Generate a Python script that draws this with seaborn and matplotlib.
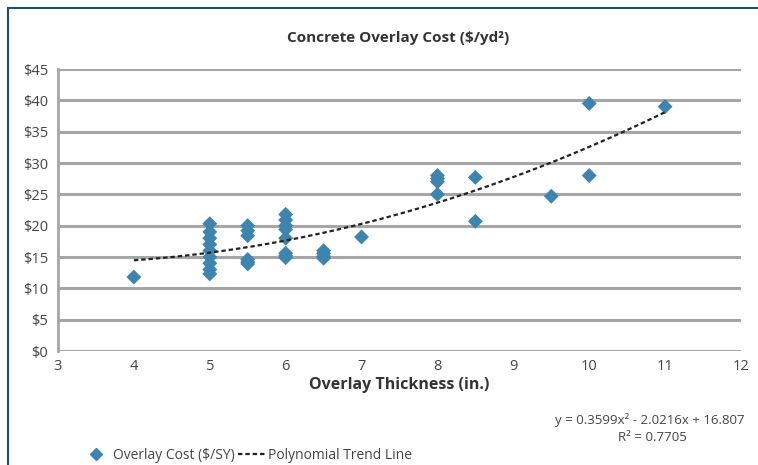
import matplotlib
matplotlib.use("Agg")
import matplotlib.pyplot as plt
import matplotlib.ticker as mticker
from matplotlib.lines import Line2D
from matplotlib.patches import Rectangle
import numpy as np
import pandas as pd
import seaborn as sns

# ---- data ----
thickness = [4,
             5, 5, 5, 5, 5, 5, 5, 5, 5,
             5.5, 5.5, 5.5, 5.5, 5.5, 5.5,
             6, 6, 6, 6, 6, 6, 6, 6,
             6.5, 6.5, 6.5, 6.5,
             7,
             8, 8, 8, 8,
             8.5, 8.5,
             9.5,
             10, 10,
             11]
cost = [11.8,
        20.3, 19.0, 18.0, 17.0, 16.0, 15.0, 14.0, 13.0, 12.3,
        20.0, 19.2, 18.4, 14.6, 14.2, 13.9,
        21.8, 20.9, 20.0, 19.4, 18.0, 15.6, 15.2, 14.9,
        16.0, 15.6, 15.1, 14.8,
        18.2,
        28.0, 27.5, 27.0, 25.0,
        27.7, 20.7,
        24.7,
        39.5, 28.0,
        39.0]
trend_coef = [0.3599, -2.0216, 16.807]   # printed trend equation
trend_range = [4, 11]
x_ticks = [3, 4, 5, 6, 7, 8, 9, 10, 11, 12]
y_ticks = [0, 5, 10, 15, 20, 25, 30, 35, 40, 45]

df = pd.DataFrame({"thickness": thickness, "cost": cost})
tx = np.linspace(trend_range[0], trend_range[1], 100)
ty = np.polyval(trend_coef, tx)
tdf = pd.DataFrame({"x": tx, "y": ty})

sns.set_theme(style="white")
plt.rcParams["font.family"] = ["Open Sans", "DejaVu Sans"]

W, H = 758, 465
fig = plt.figure(figsize=(W / 100, H / 100), dpi=100)
ax = fig.add_axes([58 / W, 1 - 351 / H, (741 - 58) / W, (351 - 69) / H])

grid_col = "#a6a6a6"
for v in y_ticks:
    ax.axhline(v, color=grid_col, lw=2.2, zorder=0)

marker_col = "#3d84ae"
sns.scatterplot(data=df, x="thickness", y="cost", marker="D", s=58,
                color=marker_col, edgecolor="none", ax=ax, zorder=3)
sns.lineplot(data=tdf, x="x", y="y", color="#222222", lw=1.6,
             linestyle=(0, (2, 1.3)), ax=ax, zorder=4)

ax.set_xlim(3, 12)
ax.set_ylim(0, 45)
ax.set_xticks(x_ticks)
ax.set_yticks(y_ticks)
ax.yaxis.set_major_formatter(mticker.FuncFormatter(lambda v, p: "\\$%d" % v))
ax.tick_params(axis="both", labelsize=10.5, colors="#444444", length=4,
               width=1.2, direction="out", pad=3)
ax.tick_params(axis="y", color=grid_col)
ax.tick_params(axis="x", length=0, pad=6)
for s in ["top", "right", "bottom"]:
    ax.spines[s].set_visible(False)
ax.spines["left"].set_color(grid_col)
ax.spines["left"].set_linewidth(2)

ax.set_xlabel("Overlay Thickness (in.)", fontsize=11.5, fontweight="bold",
              color="#333333", labelpad=2)
ax.set_ylabel("")
fig.text(398 / W, 1 - 38 / H, "Concrete Overlay Cost (\\$/yd²)", ha="center",
         va="center", fontsize=11, fontweight="bold", color="#333333")

fig.text(650 / W, 1 - 420 / H, "y = 0.3599x² - 2.0216x + 16.807", ha="center",
         va="center", fontsize=9.5, color="#444444")
fig.text(652 / W, 1 - 437 / H, "R² = 0.7705", ha="center", va="center",
         fontsize=9.5, color="#444444")

handles = [
    Line2D([], [], marker="D", color=marker_col, linestyle="none", markersize=6),
    Line2D([], [], color="#222222", lw=1.6, linestyle=(0, (2, 1.3))),
]
fig.legend(handles, ["Overlay Cost (\\$/SY)", "Polynomial Trend Line"],
           loc="center left", bbox_to_anchor=(70 / W, 1 - 455 / H), ncol=2,
           frameon=False, fontsize=10, handlelength=2.0, handletextpad=0.2,
           columnspacing=0.2, labelcolor="#444444")

# outer border (blue left and top edges)
fig.add_artist(Rectangle((8 / W, -0.05), 1.2, 1 - 8 / H + 0.05,
                         transform=fig.transFigure, fill=False,
                         edgecolor="#1f4e79", lw=1.5))

fig.savefig("out.png", dpi=100)
